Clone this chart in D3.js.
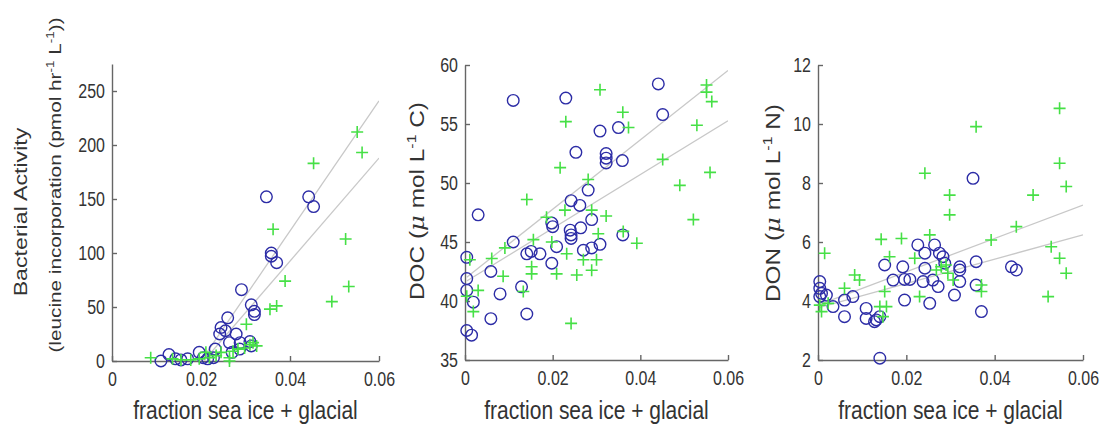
<!DOCTYPE html>
<html>
<head>
<meta charset="utf-8">
<script src="https://cdn.jsdelivr.net/npm/d3@7"></script>
<style>
  body { margin: 0; background: #fff; }
  svg { display: block; font-family: "Liberation Sans", Arial, sans-serif; }
  .axis path, .axis line { stroke: #666; stroke-width: 1.4; }
  .axis text { fill: #333; font-size: 16px; }
  .label { fill: #333; }
</style>
</head>
<body>
<div id="chart"></div>
<script>
// x values are fraction sea ice + glacial, y values the measured quantity
const xTicks = [0, 0.02, 0.04, 0.06];

// Bacterial activity (leucine incorporation)
const bactTicks = [0, 50, 100, 150, 200, 250];
const bactBlue = [
  [0.011, 0], [0.0128, 6], [0.0143, 2], [0.0155, 1], [0.017, 2], [0.0196, 8],
  [0.0205, 3], [0.0215, 2], [0.0228, 3], [0.0232, 11], [0.0245, 31], [0.0242, 25],
  [0.0255, 28], [0.0264, 17], [0.026, 40], [0.0279, 25], [0.0287, 11], [0.0291, 66],
  [0.031, 18], [0.0313, 14], [0.0313, 52], [0.032, 46], [0.032, 43], [0.0347, 152],
  [0.0358, 100], [0.0358, 97], [0.037, 91], [0.0442, 152], [0.0453, 143],
  [0.027, 8], [0.0288, 17]
];
const bactGreen = [
  [0.0551, 212], [0.0562, 193], [0.0453, 183], [0.0362, 122], [0.0525, 113],
  [0.0389, 74], [0.0532, 69], [0.0494, 55], [0.037, 51], [0.0355, 48], [0.0302, 34],
  [0.0317, 17], [0.0325, 14], [0.0298, 12], [0.0283, 11], [0.0272, 9], [0.0245, 8],
  [0.0234, 5], [0.0219, 3], [0.0264, 3], [0.0087, 3], [0.0136, 2], [0.0155, 1],
  [0.0196, 2], [0.0264, 0], [0.031, 15], [0.0211, 8], [0.0177, 1]
];
const bactFits = [[6020, -120.4], [4770, -98.3]];   // [slope, intercept]

// DOC
const docTicks = [35, 40, 45, 50, 55, 60];
const docBlue = [
  [0.0441, 58.4], [0.011, 57.0], [0.023, 57.2], [0.0451, 55.8], [0.0308, 54.4],
  [0.035, 54.7], [0.0253, 52.6], [0.0322, 52.5], [0.0322, 52.1], [0.0322, 51.7],
  [0.0359, 51.9], [0.0281, 49.4], [0.0242, 48.5], [0.0262, 48.1], [0.003, 47.3],
  [0.0198, 46.6], [0.02, 46.3], [0.0289, 46.9], [0.024, 46.0], [0.0242, 45.6],
  [0.0242, 45.3], [0.0264, 46.2], [0.036, 45.6], [0.011, 45.0], [0.0209, 44.6],
  [0.027, 44.3], [0.0289, 44.5], [0.0308, 44.8], [0.0141, 44.0], [0.0151, 44.2],
  [0.0171, 44.0], [0.0198, 43.2], [0.0004, 43.7], [0.0004, 41.9], [0.0004, 40.9],
  [0.0059, 42.5], [0.0019, 39.9], [0.0129, 41.2], [0.008, 40.6], [0.0059, 38.5],
  [0.0141, 38.9], [0.0004, 37.5], [0.0015, 37.1]
];
const docGreen = [
  [0.0308, 57.9], [0.0551, 58.3], [0.0551, 57.7], [0.0563, 56.9], [0.023, 55.2],
  [0.036, 56.0], [0.0373, 54.7], [0.0529, 54.9], [0.0451, 52.0], [0.0217, 51.3],
  [0.0559, 50.9], [0.049, 49.8], [0.0281, 50.3], [0.0141, 48.6], [0.0521, 46.9],
  [0.0186, 47.1], [0.0228, 47.7], [0.0322, 47.2], [0.0289, 47.7], [0.0392, 44.9],
  [0.0361, 45.9], [0.0156, 45.2], [0.0091, 44.5], [0.0061, 43.6], [0.0011, 43.5],
  [0.0152, 42.9], [0.0152, 42.3], [0.0087, 42.1], [0.0209, 42.3], [0.0255, 42.2],
  [0.0289, 42.6], [0.027, 43.5], [0.03, 43.5], [0.0232, 44.0], [0.0198, 45.0],
  [0.003, 40.9], [0.0019, 39.1], [0.0133, 40.8], [0.0242, 38.1], [0.0304, 45.7],
  [0.0004, 40.4]
];
const docFits = [[294, 41.9], [228, 41.6]];

// DON
const donTicks = [2, 4, 6, 8, 10, 12];
const donBlue = [
  [0.0351, 8.16], [0.0264, 5.90], [0.0226, 5.90], [0.0242, 5.62], [0.0275, 5.62],
  [0.0283, 5.50], [0.0287, 5.28], [0.0321, 5.16], [0.0321, 5.05], [0.0358, 5.33],
  [0.0438, 5.16], [0.0449, 5.05], [0.0242, 5.11], [0.0151, 5.22], [0.0192, 5.16],
  [0.017, 4.71], [0.0196, 4.73], [0.0208, 4.73], [0.0238, 4.66], [0.026, 4.71],
  [0.0272, 4.49], [0.0321, 4.66], [0.0358, 4.54], [0.0309, 4.20], [0.0196, 4.03],
  [0.0253, 3.92], [0.037, 3.64], [0.0004, 4.66], [0.0004, 4.43], [0.0008, 4.26],
  [0.0019, 4.20], [0.0004, 4.15], [0.0034, 3.81], [0.006, 4.03], [0.0079, 4.15],
  [0.006, 3.47], [0.0109, 3.75], [0.0109, 3.41], [0.0132, 3.36], [0.014, 3.47],
  [0.0128, 3.30], [0.014, 2.06]
];
const donGreen = [
  [0.0547, 10.53], [0.0358, 9.91], [0.0547, 8.67], [0.0562, 7.88], [0.0487, 7.59],
  [0.0242, 8.33], [0.0298, 7.59], [0.0298, 6.92], [0.0449, 6.52], [0.0392, 6.07],
  [0.0528, 5.84], [0.0547, 5.45], [0.0562, 4.94], [0.0521, 4.15], [0.0253, 6.24],
  [0.0143, 6.09], [0.0189, 6.12], [0.0015, 5.62], [0.0162, 5.50], [0.0219, 5.45],
  [0.029, 5.22], [0.0306, 4.71], [0.037, 4.32], [0.037, 4.54], [0.0083, 4.88],
  [0.0094, 4.71], [0.006, 4.43], [0.0151, 4.32], [0.014, 3.81], [0.0155, 3.81],
  [0.0147, 3.47], [0.0008, 3.64], [0.0004, 3.86], [0.0023, 3.92], [0.023, 4.15],
  [0.0268, 5.05], [0.0279, 5.16], [0.0294, 4.94]
];
const donFits = [[56.5, 3.86], [41.2, 3.77]];

const W = 1109, H = 432;
const K = 1.22;          // source figure is stretched vertically, text too
const blue = "#2c2ca6", green = "#46e046", fitColor = "#c8c8c8";

const panels = [
  { blue: bactBlue, green: bactGreen, fits: bactFits, ticks: bactTicks,
    yDomain: [0, 275], left: 112, right: 379, top: 64, bottom: 361,
    ylabel: [
      { x: 20, y: 212, size: 19, parts: [["Bacterial Activity"]] },
      { x: 55, y: 185, size: 17, parts: [["(leucine incorporation (pmol hr"], ["-1", "sup"], [" L"], ["-1", "sup"], ["))"]] }
    ] },
  { blue: docBlue, green: docGreen, fits: docFits, ticks: docTicks,
    yDomain: [35, 60], left: 465, right: 728, top: 65, bottom: 360,
    ylabel: [
      { x: 417, y: 201, size: 20, parts: [["DOC ("], ["\u03bc", "mu"], [" mol L"], ["-1", "sup"], [" C)"]] }
    ] },
  { blue: donBlue, green: donGreen, fits: donFits, ticks: donTicks,
    yDomain: [2, 12], left: 818, right: 1083, top: 65, bottom: 360,
    ylabel: [
      { x: 773, y: 203, size: 20, parts: [["DON ("], ["\u03bc", "mu"], [" mol L"], ["-1", "sup"], [" N)"]] }
    ] }
];

const svg = d3.select("#chart").append("svg")
  .attr("width", W)
  .attr("height", H);

panels.forEach((p, i) => drawPanel(p, i));

function drawPanel (p, i) {
  let x = d3.scaleLinear().domain([0, 0.06]).range([p.left, p.right]),
      y = d3.scaleLinear().domain(p.yDomain).range([p.bottom, p.top]);

  // clip for the fit lines
  svg.append("clipPath").attr("id", "clip" + i)
    .append("rect")
    .attr("x", p.left).attr("y", p.top)
    .attr("width", p.right - p.left).attr("height", p.bottom - p.top);

  // axes, MATLAB style ticks pointing inward
  let xAxis = svg.append("g")
    .attr("class", "axis")
    .attr("transform", `translate(0,${p.bottom})`)
    .call(d3.axisBottom(x).tickValues(xTicks).tickFormat(d => d === 0 ? "0" : d3.format(".2f")(d))
      .tickSizeInner(-5).tickSizeOuter(0));
  xAxis.selectAll("text")
    .attr("y", 11 / K)
    .attr("transform", `scale(1,${K})`);

  let yAxis = svg.append("g")
    .attr("class", "axis")
    .attr("transform", `translate(${p.left},0)`)
    .call(d3.axisLeft(y).tickValues(p.ticks).tickSizeInner(-5).tickSizeOuter(0).tickPadding(7));
  yAxis.selectAll("text")
    .attr("transform", `scale(1,${K})`);

  // fitted lines, from the smallest x to the axis end
  let xMin = d3.min(p.blue.concat(p.green), d => d[0]);
  p.fits.forEach(f => {
    svg.append("path")
      .attr("clip-path", `url(#clip${i})`)
      .attr("d", d3.line().x(d => x(d)).y(d => y(f[0] * d + f[1]))([xMin, 0.06]))
      .attr("fill", "none")
      .attr("stroke", fitColor)
      .attr("stroke-width", 1.3);
  });

  // blue circles
  svg.append("g").selectAll("circle")
    .data(p.blue)
    .enter().append("circle")
    .attr("cx", d => x(d[0]))
    .attr("cy", d => y(d[1]))
    .attr("r", 5.8)
    .attr("fill", "none")
    .attr("stroke", blue)
    .attr("stroke-width", 1.4);

  // green plus signs
  svg.append("g").selectAll("path")
    .data(p.green)
    .enter().append("path")
    .attr("d", d => {
      let cx = x(d[0]), cy = y(d[1]), s = 6;
      return `M${cx - s},${cy}H${cx + s}M${cx},${cy - s}V${cy + s}`;
    })
    .attr("stroke", green)
    .attr("stroke-width", 1.6);

  // x label
  svg.append("text")
    .attr("class", "label")
    .attr("transform", `translate(${(p.left + p.right) / 2},410) scale(1,${K})`)
    .attr("text-anchor", "middle")
    .attr("dy", "0.35em")
    .style("font-size", "21px")
    .text("fraction sea ice + glacial");

  // y label(s), superscripts as raised tspans
  p.ylabel.forEach(l => {
    let t = svg.append("text")
      .attr("class", "label")
      .attr("transform", `translate(${l.x},${l.y}) rotate(-90) scale(${K},1)`)
      .attr("text-anchor", "middle")
      .attr("dy", "0.35em")
      .style("font-size", l.size + "px");
    let shift = 0;
    l.parts.forEach(part => {
      let s = t.append("tspan").text(part[0]);
      if (part[1] === "sup") {
        s.style("font-size", (l.size * 0.65) + "px").attr("dy", -l.size * 0.4);
        shift = l.size * 0.4;
      } else {
        if (shift) { s.attr("dy", shift); shift = 0; }
        if (part[1] === "mu") s.style("font-family", "DejaVu Serif").style("font-style", "italic");
      }
    });
  });
}
</script>
</body>
</html>
